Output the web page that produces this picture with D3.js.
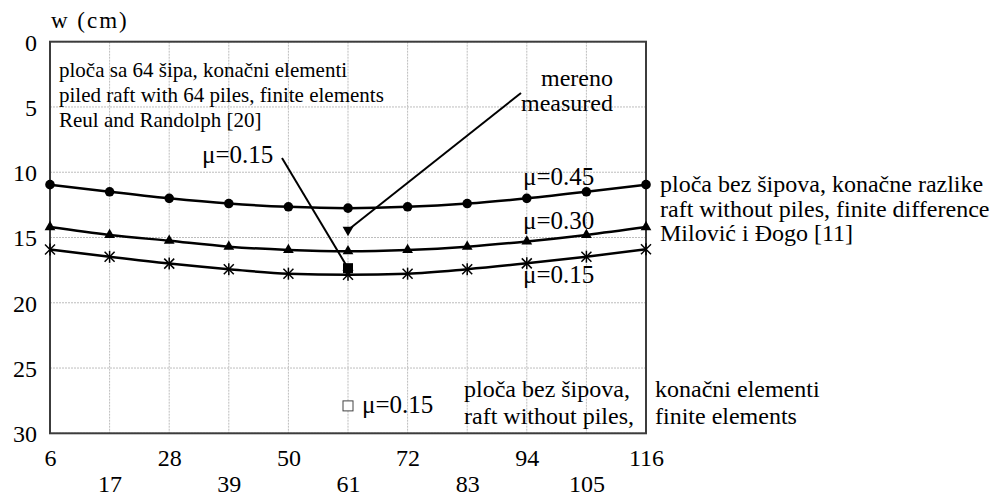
<!DOCTYPE html>
<html>
<head>
<meta charset="utf-8">
<script src="https://cdn.jsdelivr.net/npm/d3@7"></script>
<style>
html,body{margin:0;padding:0;background:#fff;}
svg{display:block;}
text{font-family:"Liberation Serif","Times New Roman",Times,serif;fill:#000;}
</style>
</head>
<body>
<svg id="chart" width="1007" height="495"></svg>
<script>
// ---- data ----
const positions = [6, 17, 28, 39, 50, 61, 72, 83, 94, 105, 116];
const mu045 = [10.95, 11.5, 12.0, 12.4, 12.65, 12.75, 12.65, 12.4, 12.0, 11.5, 10.95];
const mu030 = [14.2, 14.8, 15.25, 15.7, 15.95, 16.05, 15.95, 15.7, 15.3, 14.8, 14.2];
const mu015 = [15.92, 16.48, 17.0, 17.43, 17.77, 17.85, 17.77, 17.43, 16.98, 16.47, 15.9];
const measured = [{x: 61, w: 14.42}];
const piledRaftFE = [{x: 61, w: 17.35}];
const raftFE = [{x: 61, w: 27.9}];
const yTicks = [0, 5, 10, 15, 20, 25, 30];
const xTicksTop = [6, 28, 50, 72, 94, 116];
const xTicksBottom = [17, 39, 61, 83, 105];

const svg = d3.select("#chart");
const L = 50, R = 646, T = 41.7, B = 433.3;
const x = d3.scaleLinear().domain([6, 116]).range([L, R]);
const y = d3.scaleLinear().domain([0, 30]).range([T, B]);
const FONT = "Liberation Serif";
const TICK_FS = 24;

// grid
const grid = svg.append("g").attr("stroke", "#bdbdbd").attr("stroke-width", 1).attr("stroke-dasharray", "2,1");
grid.selectAll(".vg").data(positions).join("line")
  .attr("x1", d => x(d)).attr("x2", d => x(d)).attr("y1", T).attr("y2", B);
grid.selectAll(".hg").data(yTicks).join("line")
  .attr("x1", L).attr("x2", R).attr("y1", d => y(d)).attr("y2", d => y(d));

// frame
svg.append("rect").attr("x", L).attr("y", T).attr("width", R - L).attr("height", B - T)
  .attr("fill", "none").attr("stroke", "#3c3c3c").attr("stroke-width", 2);

// axes labels
const styleTicks = g => {
  g.select(".domain").remove();
  g.attr("font-family", FONT).attr("font-size", TICK_FS);
  g.selectAll("text").attr("font-size", TICK_FS).attr("font-family", FONT).attr("fill", "#000");
};
const yAxis = d3.axisLeft(y).tickValues(yTicks).tickSize(0).tickPadding(13);
const gy = svg.append("g").attr("transform", `translate(${L},0)`).call(yAxis).call(styleTicks);
gy.selectAll("text").attr("dy", "0.35em");

const xAxisTop = d3.axisBottom(x).tickValues(xTicksTop).tickSize(0).tickPadding(16);
svg.append("g").attr("transform", `translate(0,${B})`).call(xAxisTop).call(styleTicks)
  .selectAll("text").attr("dy", "0.7em");

const xAxisBot = d3.axisBottom(x).tickValues(xTicksBottom).tickSize(0).tickPadding(42);
svg.append("g").attr("transform", `translate(0,${B})`).call(xAxisBot).call(styleTicks)
  .selectAll("text").attr("dy", "0.7em");

svg.append("text").attr("x", 51).attr("y", 28).attr("font-size", 23)
  .attr("letter-spacing", 2).text("w (cm)");

// lines
const line = d3.line().x(d => x(d.x)).y(d => y(d.w)).curve(d3.curveMonotoneX);
const mk = arr => positions.map((p, i) => ({x: p, w: arr[i]}));
const s45 = mk(mu045), s30 = mk(mu030), s15 = mk(mu015);
[s45, s30, s15].forEach(s => {
  svg.append("path").datum(s).attr("d", line).attr("fill", "none")
    .attr("stroke", "#000").attr("stroke-width", 2.5);
});

// callout lines
svg.append("line").attr("x1", 282).attr("y1", 158).attr("x2", x(61)).attr("y2", y(piledRaftFE[0].w))
  .attr("stroke", "#000").attr("stroke-width", 2);
svg.append("line").attr("x1", 521).attr("y1", 93).attr("x2", x(61)).attr("y2", y(measured[0].w))
  .attr("stroke", "#000").attr("stroke-width", 2);

// markers
svg.append("g").selectAll("circle").data(s45).join("circle")
  .attr("cx", d => x(d.x)).attr("cy", d => y(d.w)).attr("r", 4.8).attr("fill", "#000");
const tri = d3.symbol().type(d3.symbolTriangle).size(50);
svg.append("g").selectAll("path").data(s30).join("path")
  .attr("transform", d => `translate(${x(d.x)},${y(d.w)})`).attr("d", tri).attr("fill", "#000");
const star = svg.append("g").attr("stroke", "#000").attr("stroke-width", 1.5);
s15.forEach(d => {
  const cx = x(d.x), cy = y(d.w), r = 5;
  star.append("line").attr("x1", cx - r).attr("y1", cy - r).attr("x2", cx + r).attr("y2", cy + r);
  star.append("line").attr("x1", cx + r).attr("y1", cy - r).attr("x2", cx - r).attr("y2", cy + r);
  star.append("line").attr("x1", cx).attr("y1", cy - r - 1).attr("x2", cx).attr("y2", cy + r + 1);
});
svg.append("g").selectAll("path").data(measured).join("path")
  .attr("transform", d => `translate(${x(d.x)},${y(d.w)}) rotate(180)`).attr("d", tri).attr("fill", "#000");
svg.append("g").selectAll("rect").data(piledRaftFE).join("rect")
  .attr("x", d => x(d.x) - 5).attr("y", d => y(d.w) - 5).attr("width", 10).attr("height", 10).attr("fill", "#000");
svg.append("g").selectAll("rect").data(raftFE).join("rect")
  .attr("x", d => x(d.x) - 5).attr("y", d => y(d.w) - 5).attr("width", 10).attr("height", 10)
  .attr("fill", "#fff").attr("stroke", "#444").attr("stroke-width", 1);

// annotations
const t = (xx, yy, s, fs, anchor) => svg.append("text").attr("x", xx).attr("y", yy)
  .attr("font-size", fs).attr("text-anchor", anchor || "start").text(s);
t(59, 77, "ploča sa 64 šipa, konačni elementi", 21);
t(59, 102, "piled raft with 64 piles, finite elements", 21);
t(59, 127, "Reul and Randolph [20]", 21);
t(202, 163, "μ=0.15", 25);
t(613, 86, "mereno", 24, "end");
t(613, 111, "measured", 24, "end");
t(523, 185, "μ=0.45", 25);
t(523, 229, "μ=0.30", 25);
t(523, 283, "μ=0.15", 25);
t(660, 192, "ploča bez šipova, konačne razlike", 24);
t(660, 217, "raft without piles, finite difference", 24);
t(660, 241, "Milović i Đogo [11]", 24);
t(362, 413, "μ=0.15", 25);
t(464, 397, "ploča bez šipova,", 24);
t(464, 424, "raft without piles,", 24);
t(655, 397, "konačni elementi", 24);
t(655, 424, "finite elements", 24);
</script>
</body>
</html>
